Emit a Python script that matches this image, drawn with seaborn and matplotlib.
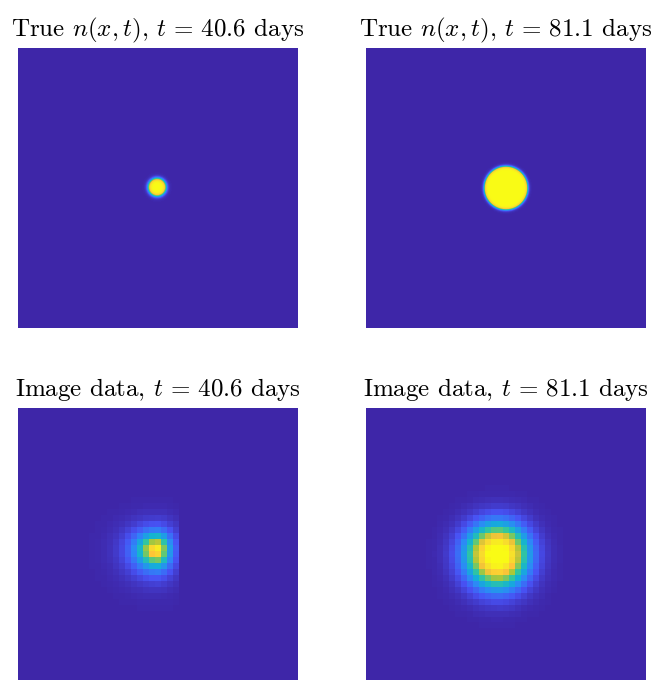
import numpy as np
import pandas as pd
import matplotlib
matplotlib.use("Agg")
import matplotlib.pyplot as plt
from matplotlib.colors import LinearSegmentedColormap
import seaborn as sns

sns.set_theme(style="white")
plt.rcParams["font.family"] = ["cmr10", "DejaVu Serif"]
plt.rcParams["mathtext.fontset"] = "cm"
plt.rcParams["axes.unicode_minus"] = False

# ---- data (coordinates are fractions of the panel) ----
times = ["40.6", "81.1"]
# true tumour density: centre x, centre y, radius, edge width
true_cx = [0.497, 0.500]
true_cy = [0.497, 0.500]
true_radius = [0.031, 0.077]
true_edge = [0.008, 0.006]
# image data: centre, left/right/top/bottom length scales, profile exponent,
# right cut-off, peak gain, pixel count
img_cx = [0.495, 0.4710]
img_cy = [0.505, 0.522]
img_L_left = [0.064, 0.106]
img_L_right = [0.042, 0.100]
img_L_top = [0.051, 0.100]
img_L_bottom = [0.059, 0.110]
img_power = [1.3, 2.0]
img_cut_right = [0.572, 1.0]
img_gain = [1.0, 1.12]
img_pixels = [47, 47]

# parula colour map anchors
parula_pos = [0.0, 0.125, 0.25, 0.375, 0.5, 0.625, 0.75, 0.875, 1.0]
parula_rgb = [(0.2422, 0.1504, 0.6603), (0.2810, 0.3228, 0.9579),
              (0.1786, 0.5289, 0.9682), (0.0689, 0.6948, 0.8394),
              (0.2161, 0.7843, 0.5923), (0.6720, 0.7793, 0.2227),
              (0.9970, 0.7659, 0.2199), (0.9657, 0.8870, 0.1650),
              (0.9769, 0.9839, 0.0805)]
parula = LinearSegmentedColormap.from_list("parula", list(zip(parula_pos, parula_rgb)))

def true_field(i, n=280):
    c = (np.arange(n) + 0.5) / n
    X, Y = np.meshgrid(c, c)
    r = np.hypot(X - true_cx[i], Y - true_cy[i])
    return 0.5 * (1 - np.tanh((r - true_radius[i]) / true_edge[i]))

def image_field(i):
    n = img_pixels[i]
    c = (np.arange(n) + 0.5) / n
    X, Y = np.meshgrid(c, c)
    dx = X - img_cx[i]
    dy = Y - img_cy[i]
    lx = np.where(dx < 0, img_L_left[i], img_L_right[i])
    ly = np.where(dy < 0, img_L_top[i], img_L_bottom[i])
    rho = np.sqrt((dx / lx) ** 2 + (dy / ly) ** 2)
    v = np.clip(img_gain[i] * np.exp(-rho ** img_power[i]), 0, 1)
    v = np.where(X > img_cut_right[i], 0.0, v)
    return v

W, H = 654, 680
fig = plt.figure(figsize=(W / 100, H / 100), dpi=100)
pw = 280
lefts = [18, 366]
tops = [48, 408]
for row in range(2):
    for col in range(2):
        ax = fig.add_axes([lefts[col] / W, 1 - (tops[row] + pw) / H, pw / W, pw / H])
        if row == 0:
            data = pd.DataFrame(true_field(col))
            title = r"True $n(x,t)$, $t \,=\, %s$ days" % times[col]
        else:
            data = pd.DataFrame(image_field(col))
            title = r"Image data, $t \,=\, %s$ days" % times[col]
        sns.heatmap(data, ax=ax, cmap=parula, vmin=0, vmax=1, cbar=False,
                    xticklabels=False, yticklabels=False, rasterized=True)
        ax.set_title(title, fontsize=18, pad=8.5, color="black")
        ax.set_xlabel("")
        ax.set_ylabel("")

fig.savefig("out.png", dpi=100)
